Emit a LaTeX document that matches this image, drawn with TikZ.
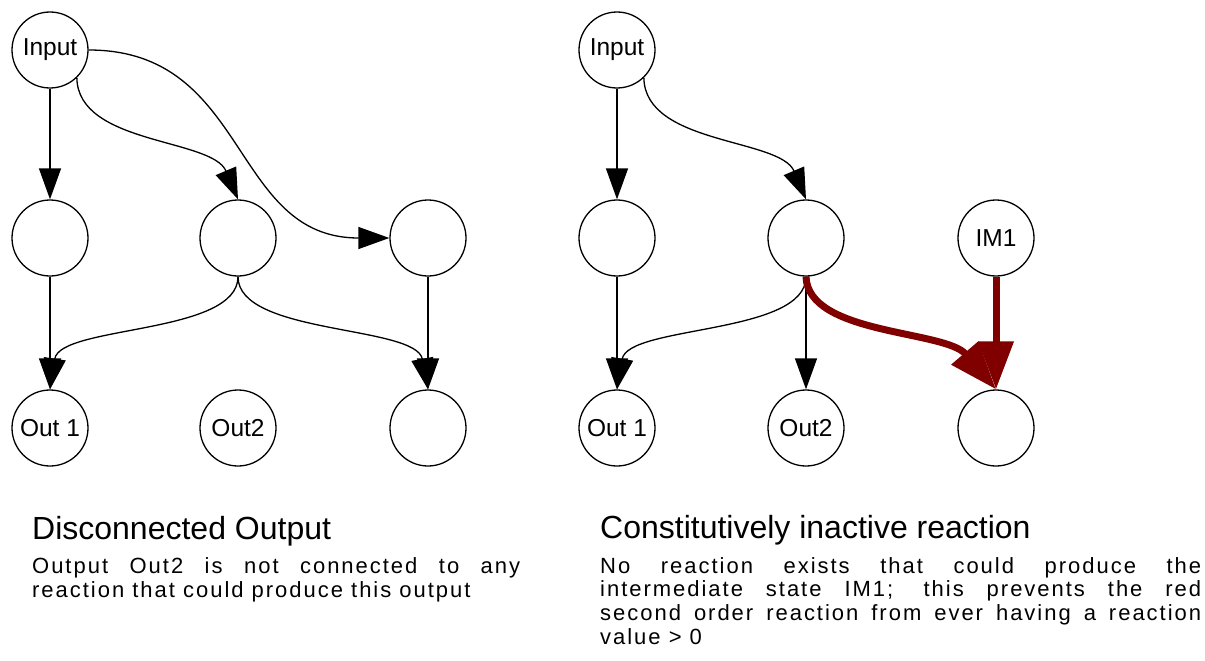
\documentclass[tikz,border=0pt]{standalone}
\usepackage{fontspec}
\setmainfont{Liberation Sans}
\newfontfamily\bodyfont{Liberation Sans}[LetterSpace=9]
\newfontfamily\titlefont{Liberation Sans}
\usetikzlibrary{arrows.meta}
\definecolor{darkred}{RGB}{128,0,0}
\begin{document}
\begin{tikzpicture}[x=1pt,y=-1pt,
  nd/.style={circle,draw,line width=1.3pt,minimum size=76pt,inner sep=0pt,
    font=\fontsize{24.5}{26}\selectfont},
  conn/.style={line width=1.3pt,-{Triangle[length=31pt,width=22pt]}},
  redconn/.style={line width=7pt,color=darkred,-{Triangle[length=48pt,width=34pt]}},
  ttl/.style={anchor=base west,inner sep=0pt,font=\titlefont\fontsize{32}{34}\selectfont},
  body/.style={anchor=base west,inner sep=0pt,font=\bodyfont\fontsize{22}{24}\selectfont}
]
\useasboundingbox (0,0) rectangle (1205,661);
% ---------- left panel ----------
\node[nd] (LI) at (50,50) {Input};
\node[nd] (LA) at (50,238) {};
\node[nd] (LB) at (238,238) {};
\node[nd] (LC) at (428,238) {};
\node[nd] (LO1) at (50,428) {Out 1};
\node[nd] (LO2) at (238,428) {Out2};
\node[nd] (LD) at (428,428) {};
\draw[conn] (LI) -- (LA);
\draw[conn] (LI.-46) .. controls (78,145) and (212,138) .. (LB.north);
\draw[conn] (LI.east) .. controls (250,50) and (230,238) .. (LC.west);
\draw[conn] (LA) -- (LO1);
\draw[conn] (LB.south) .. controls (238,335) and (60,325) .. (LO1.north);
\draw[conn] (LB.south) .. controls (238,335) and (416,325) .. (LD.north);
\draw[conn] (LC) -- (LD);
\node[ttl] (LT) at (32,539) {Disconnected Output};
\node[body] (LX1) at (32,573) {\makebox[488pt][s]{Output Out2 is not connected to any}};
\node[body] (LX2) at (32,597) {reaction that could produce this output};
% ---------- right panel ----------
\node[nd] (RI) at (617,50) {Input};
\node[nd] (RA) at (617,238) {};
\node[nd] (RB) at (806,238) {};
\node[nd] (RM) at (996,238) {IM1};
\node[nd] (RO1) at (617,428) {Out 1};
\node[nd] (RO2) at (806,428) {Out2};
\node[nd] (RD) at (996,428) {};
\draw[conn] (RI) -- (RA);
\draw[conn] (RI.-46) .. controls (645,145) and (780,138) .. (RB.north);
\draw[conn] (RA) -- (RO1);
\draw[conn] (RB.south) .. controls (806,335) and (628,325) .. (RO1.north);
\draw[conn] (RB) -- (RO2);
\draw[redconn] (RB.south) .. controls (808,335) and (945,330) .. (RD.north);
\draw[redconn] (RM) -- (RD);
\node[ttl] (RT) at (600,538) {Constitutively inactive reaction};
\node[body] (RX1) at (600,573) {\makebox[601pt][s]{No reaction exists that could produce the}};
\node[body] (RX2) at (600,596) {\makebox[601pt][s]{intermediate state IM1; this prevents the red}};
\node[body] (RX3) at (600,620) {\makebox[601pt][s]{second order reaction from ever having a reaction}};
\node[body] (RX4) at (600,644) {value > 0};
\end{tikzpicture}
\end{document}
